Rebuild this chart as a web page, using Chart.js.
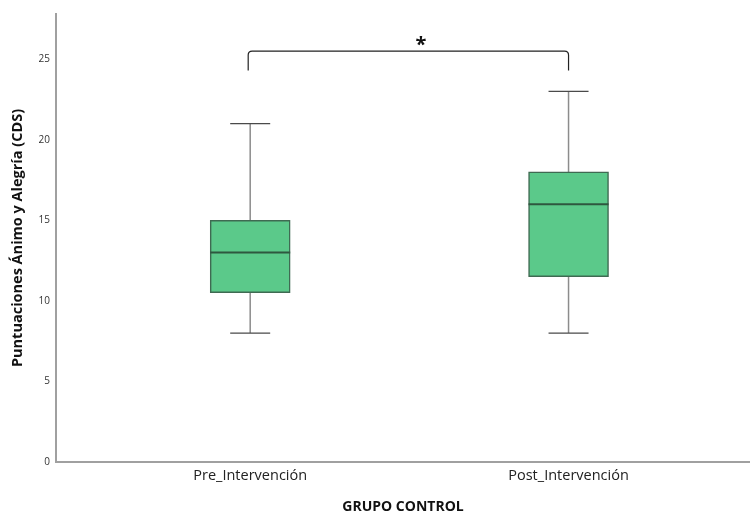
<!DOCTYPE html>
<html>
<head>
<meta charset="utf-8">
<script src="https://cdn.jsdelivr.net/npm/chart.js@4"></script>
<style>
  body { margin: 0; background: #fff; }
  #wrap { width: 750px; height: 515px; }
</style>
</head>
<body>
<div id="wrap"><canvas id="chart"></canvas></div>
<script>
// box plot values
var groups = ['Pre_Intervención', 'Post_Intervención'];
var mins = [8, 8];
var q1s = [10.5, 11.5];
var medians = [13, 16];
var q3s = [15, 18];
var maxs = [21, 23];
var yTicks = [0, 5, 10, 15, 20, 25];

// significance bracket between the two groups
var bracketY = [24.3, 25.5];
var bracketLabel = '*';

var boxFill = '#5bc98a';
var boxLine = '#3f6a52';

var boxPlot = {
    id: 'boxPlot',
    beforeDatasetsDraw: function (chart) {
        var ctx = chart.ctx, x = chart.scales.x, y = chart.scales.y;
        ctx.save();
        for (var i = 0; i < groups.length; i++) {
            var cx = x.getPixelForValue(i + 1);
            // whiskers
            ctx.strokeStyle = '#8c8c8c';
            ctx.lineWidth = 1.5;
            ctx.beginPath();
            ctx.moveTo(cx, y.getPixelForValue(maxs[i]));
            ctx.lineTo(cx, y.getPixelForValue(q3s[i]));
            ctx.moveTo(cx, y.getPixelForValue(q1s[i]));
            ctx.lineTo(cx, y.getPixelForValue(mins[i]));
            ctx.stroke();
            // caps
            ctx.strokeStyle = '#4a4a4a';
            ctx.lineWidth = 1.2;
            ctx.beginPath();
            [mins[i], maxs[i]].forEach(function (v) {
                var py = y.getPixelForValue(v);
                ctx.moveTo(cx - 20, py);
                ctx.lineTo(cx + 20, py);
            });
            ctx.stroke();
        }
        ctx.restore();
    },
    afterDatasetsDraw: function (chart) {
        var ctx = chart.ctx, x = chart.scales.x, y = chart.scales.y;
        ctx.save();
        // medians
        ctx.strokeStyle = '#2e573f';
        ctx.lineWidth = 2;
        for (var i = 0; i < groups.length; i++) {
            var cx = x.getPixelForValue(i + 1);
            var py = y.getPixelForValue(medians[i]);
            ctx.beginPath();
            ctx.moveTo(cx - 40, py);
            ctx.lineTo(cx + 40, py);
            ctx.stroke();
        }
        // bracket
        var x1 = x.getPixelForValue(1) - 2, x2 = x.getPixelForValue(2);
        var yb = y.getPixelForValue(bracketY[0]), yt = y.getPixelForValue(bracketY[1]);
        ctx.strokeStyle = '#222';
        ctx.lineWidth = 1.2;
        ctx.beginPath();
        ctx.moveTo(x1, yb);
        ctx.lineTo(x1, yt + 4);
        ctx.quadraticCurveTo(x1, yt, x1 + 4, yt);
        ctx.lineTo(x2 - 4, yt);
        ctx.quadraticCurveTo(x2, yt, x2, yt + 4);
        ctx.lineTo(x2, yb);
        ctx.stroke();
        ctx.fillStyle = '#111';
        ctx.font = 'bold 20px "Open Sans"';
        ctx.textAlign = 'center';
        ctx.textBaseline = 'middle';
        ctx.fillText(bracketLabel, x.getPixelForValue(1.536), yt - 6);
        ctx.restore();
    }
};

new Chart(document.getElementById('chart'), {
    type: 'bar',
    data: {
        datasets: [{
            data: groups.map(function (g, i) { return { x: i + 1, y: [q1s[i], q3s[i]] }; }),
            backgroundColor: boxFill,
            borderColor: boxLine,
            borderWidth: 1.5,
            borderSkipped: false,
            barThickness: 80
        }]
    },
    plugins: [boxPlot],
    options: {
        responsive: true,
        maintainAspectRatio: false,
        animation: false,
        layout: { padding: { top: 14, right: 0, left: 0, bottom: 0 } },
        plugins: {
            legend: { display: false },
            tooltip: { enabled: false }
        },
        scales: {
            x: {
                type: 'linear',
                offset: false,
                min: 0.39,
                max: 2.57,
                afterBuildTicks: function (scale) {
                    scale.ticks = groups.map(function (g, i) { return { value: i + 1 }; });
                },
                afterFit: function (scale) { scale.height = 53; },
                grid: { display: false, drawTicks: false },
                border: { display: true, color: '#a0a0a0', width: 2 },
                ticks: {
                    padding: 5,
                    color: '#222',
                    font: { family: 'Open Sans', size: 14.5 },
                    callback: function (v) { return groups[v - 1]; }
                },
                title: {
                    display: true,
                    text: 'GRUPO CONTROL',
                    color: '#111',
                    padding: { top: 0, bottom: 0 },
                    font: { family: 'Open Sans', size: 14, weight: 'bold' }
                }
            },
            y: {
                min: 0,
                max: 27.8,
                afterBuildTicks: function (scale) {
                    scale.ticks = yTicks.map(function (v) { return { value: v }; });
                },
                afterFit: function (scale) { scale.width = 56; },
                grid: { display: false, drawTicks: false },
                border: { display: true, color: '#a0a0a0', width: 2 },
                ticks: {
                    padding: 6,
                    color: '#333',
                    font: { family: 'Open Sans', size: 10 }
                },
                title: {
                    display: true,
                    text: 'Puntuaciones Ánimo y Alegría (CDS)',
                    color: '#111',
                    padding: { top: 9, bottom: 0 },
                    font: { family: 'Open Sans', size: 14.5, weight: 'bold' }
                }
            }
        }
    }
});
</script>
</body>
</html>
